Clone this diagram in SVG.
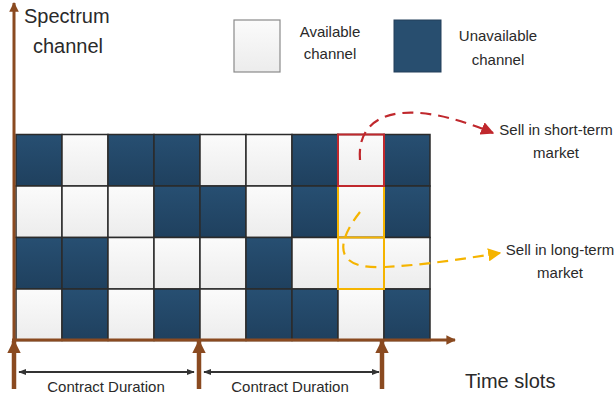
<svg xmlns="http://www.w3.org/2000/svg" width="616" height="400" viewBox="0 0 616 400">
<defs>
<linearGradient id="gL" x1="0" y1="0" x2="0" y2="1"><stop offset="0" stop-color="#fbfbfb"/><stop offset="1" stop-color="#ececec"/></linearGradient>
<linearGradient id="gD" x1="0" y1="0" x2="0" y2="1"><stop offset="0" stop-color="#274f72"/><stop offset="1" stop-color="#1f405e"/></linearGradient>
<marker id="mBrown" viewBox="0 0 10 10" refX="9" refY="5" markerWidth="3.2" markerHeight="3.2" orient="auto" markerUnits="strokeWidth"><path d="M0,0 L10,5 L0,10 z" fill="#8a4a20"/></marker>
<marker id="mUp" viewBox="0 0 10 10" refX="9" refY="5" markerWidth="3" markerHeight="3" orient="auto" markerUnits="strokeWidth"><path d="M0,0 L10,5 L0,10 z" fill="#8a4a20"/></marker>
<marker id="mBlk" viewBox="0 0 10 10" refX="9" refY="5" markerWidth="4" markerHeight="4" orient="auto-start-reverse" markerUnits="strokeWidth"><path d="M0,1 L10,5 L0,9 z" fill="#333"/></marker>
<marker id="mRed" viewBox="0 0 10 10" refX="9" refY="5" markerWidth="6" markerHeight="6" orient="auto" markerUnits="strokeWidth"><path d="M0,0 L10,5 L0,10 z" fill="#c0282d"/></marker>
<marker id="mYel" viewBox="0 0 10 10" refX="9" refY="5" markerWidth="6" markerHeight="6" orient="auto" markerUnits="strokeWidth"><path d="M0,0 L10,5 L0,10 z" fill="#f5b400"/></marker>
</defs>
<style>
.L{fill:url(#gL);stroke:#2b2b2b;stroke-width:1.5}
.D{fill:url(#gD);stroke:#2b2b2b;stroke-width:1.5}
.t{font-family:"Liberation Sans",Arial,sans-serif;fill:#2a2a2a}
.ax{stroke:#8a4a20;fill:none}
</style>
<rect width="616" height="400" fill="#fff"/>
<g id="grid">
<rect class="D" x="16" y="134.5" width="46" height="51.5"/>
<rect class="L" x="62" y="134.5" width="46" height="51.5"/>
<rect class="D" x="108" y="134.5" width="46" height="51.5"/>
<rect class="D" x="154" y="134.5" width="46" height="51.5"/>
<rect class="L" x="200" y="134.5" width="46" height="51.5"/>
<rect class="L" x="246" y="134.5" width="46" height="51.5"/>
<rect class="D" x="292" y="134.5" width="46" height="51.5"/>
<rect class="L" x="338" y="134.5" width="46" height="51.5"/>
<rect class="D" x="384" y="134.5" width="46" height="51.5"/>
<rect class="L" x="16" y="186" width="46" height="51.5"/>
<rect class="L" x="62" y="186" width="46" height="51.5"/>
<rect class="L" x="108" y="186" width="46" height="51.5"/>
<rect class="D" x="154" y="186" width="46" height="51.5"/>
<rect class="D" x="200" y="186" width="46" height="51.5"/>
<rect class="L" x="246" y="186" width="46" height="51.5"/>
<rect class="D" x="292" y="186" width="46" height="51.5"/>
<rect class="L" x="338" y="186" width="46" height="51.5"/>
<rect class="D" x="384" y="186" width="46" height="51.5"/>
<rect class="D" x="16" y="237.5" width="46" height="51.5"/>
<rect class="D" x="62" y="237.5" width="46" height="51.5"/>
<rect class="L" x="108" y="237.5" width="46" height="51.5"/>
<rect class="L" x="154" y="237.5" width="46" height="51.5"/>
<rect class="L" x="200" y="237.5" width="46" height="51.5"/>
<rect class="D" x="246" y="237.5" width="46" height="51.5"/>
<rect class="L" x="292" y="237.5" width="46" height="51.5"/>
<rect class="L" x="338" y="237.5" width="46" height="51.5"/>
<rect class="L" x="384" y="237.5" width="46" height="51.5"/>
<rect class="L" x="16" y="289" width="46" height="51.5"/>
<rect class="D" x="62" y="289" width="46" height="51.5"/>
<rect class="L" x="108" y="289" width="46" height="51.5"/>
<rect class="D" x="154" y="289" width="46" height="51.5"/>
<rect class="L" x="200" y="289" width="46" height="51.5"/>
<rect class="D" x="246" y="289" width="46" height="51.5"/>
<rect class="D" x="292" y="289" width="46" height="51.5"/>
<rect class="L" x="338" y="289" width="46" height="51.5"/>
<rect class="D" x="384" y="289" width="46" height="51.5"/>
</g>
<g id="highlights" fill="none" stroke-width="2">
<rect x="338" y="186" width="46" height="103" stroke="#f5b400"/>
<line x1="338" y1="237.5" x2="384" y2="237.5" stroke="#f5b400"/>
<rect x="338" y="134.5" width="46" height="51.5" stroke="#c0282d"/>
</g>
<g id="axes">
<line class="ax" x1="14" y1="342" x2="14" y2="3" stroke-width="3" marker-end="url(#mBrown)"/>
<line class="ax" x1="12" y1="340" x2="455" y2="340" stroke-width="3" marker-end="url(#mBrown)"/>
<line class="ax" x1="14" y1="389" x2="14" y2="341" stroke-width="4.5" marker-end="url(#mUp)"/>
<line class="ax" x1="199" y1="389" x2="199" y2="341" stroke-width="4.5" marker-end="url(#mUp)"/>
<line class="ax" x1="382" y1="389" x2="382" y2="341" stroke-width="4.5" marker-end="url(#mUp)"/>
</g>
<g id="axis-labels">
<text class="t" x="24" y="23" font-size="20">Spectrum</text>
<text class="t" x="33" y="53" font-size="20">channel</text>
<text class="t" x="465" y="388" font-size="20">Time slots</text>
</g>
<g id="legend-available">
<rect x="234" y="20" width="46" height="52" fill="url(#gL)" stroke="#8a8a8a" stroke-width="1.2"/>
<text class="t" x="330" y="37" font-size="15" text-anchor="middle">Available</text>
<text class="t" x="330" y="59" font-size="15" text-anchor="middle">channel</text>
</g>
<g id="legend-unavailable">
<rect x="394" y="20" width="47" height="52" fill="#284e6f" stroke="#233f5a" stroke-width="1"/>
<text class="t" x="498" y="41" font-size="15" text-anchor="middle">Unavailable</text>
<text class="t" x="498" y="65" font-size="15" text-anchor="middle">channel</text>
</g>
<g id="connectors" fill="none" stroke-width="2.2">
<path d="M360,160 C356,112 405,96 493,133" stroke="#c0282d" stroke-dasharray="11,7" marker-end="url(#mRed)"/>
<path d="M360,212 C338,240 330,270 385,267 C425,265 462,259 500,253" stroke="#f5b400" stroke-dasharray="11,7" marker-end="url(#mYel)"/>
<line x1="19" y1="372" x2="194" y2="372" stroke="#333" stroke-width="2" marker-start="url(#mBlk)" marker-end="url(#mBlk)"/>
<line x1="204" y1="372" x2="379" y2="372" stroke="#333" stroke-width="2" marker-start="url(#mBlk)" marker-end="url(#mBlk)"/>
</g>
<g id="duration-labels">
<text class="t" x="106" y="392" font-size="15" text-anchor="middle">Contract Duration</text>
<text class="t" x="290" y="392" font-size="15" text-anchor="middle">Contract Duration</text>
</g>
<g id="label-short-term">
<text class="t" x="556" y="135" font-size="15" text-anchor="middle">Sell in short-term</text>
<text class="t" x="556" y="158" font-size="15" text-anchor="middle">market</text>
</g>
<g id="label-long-term">
<text class="t" x="560" y="255" font-size="15" text-anchor="middle">Sell in long-term</text>
<text class="t" x="560" y="278" font-size="15" text-anchor="middle">market</text>
</g>
</svg>
